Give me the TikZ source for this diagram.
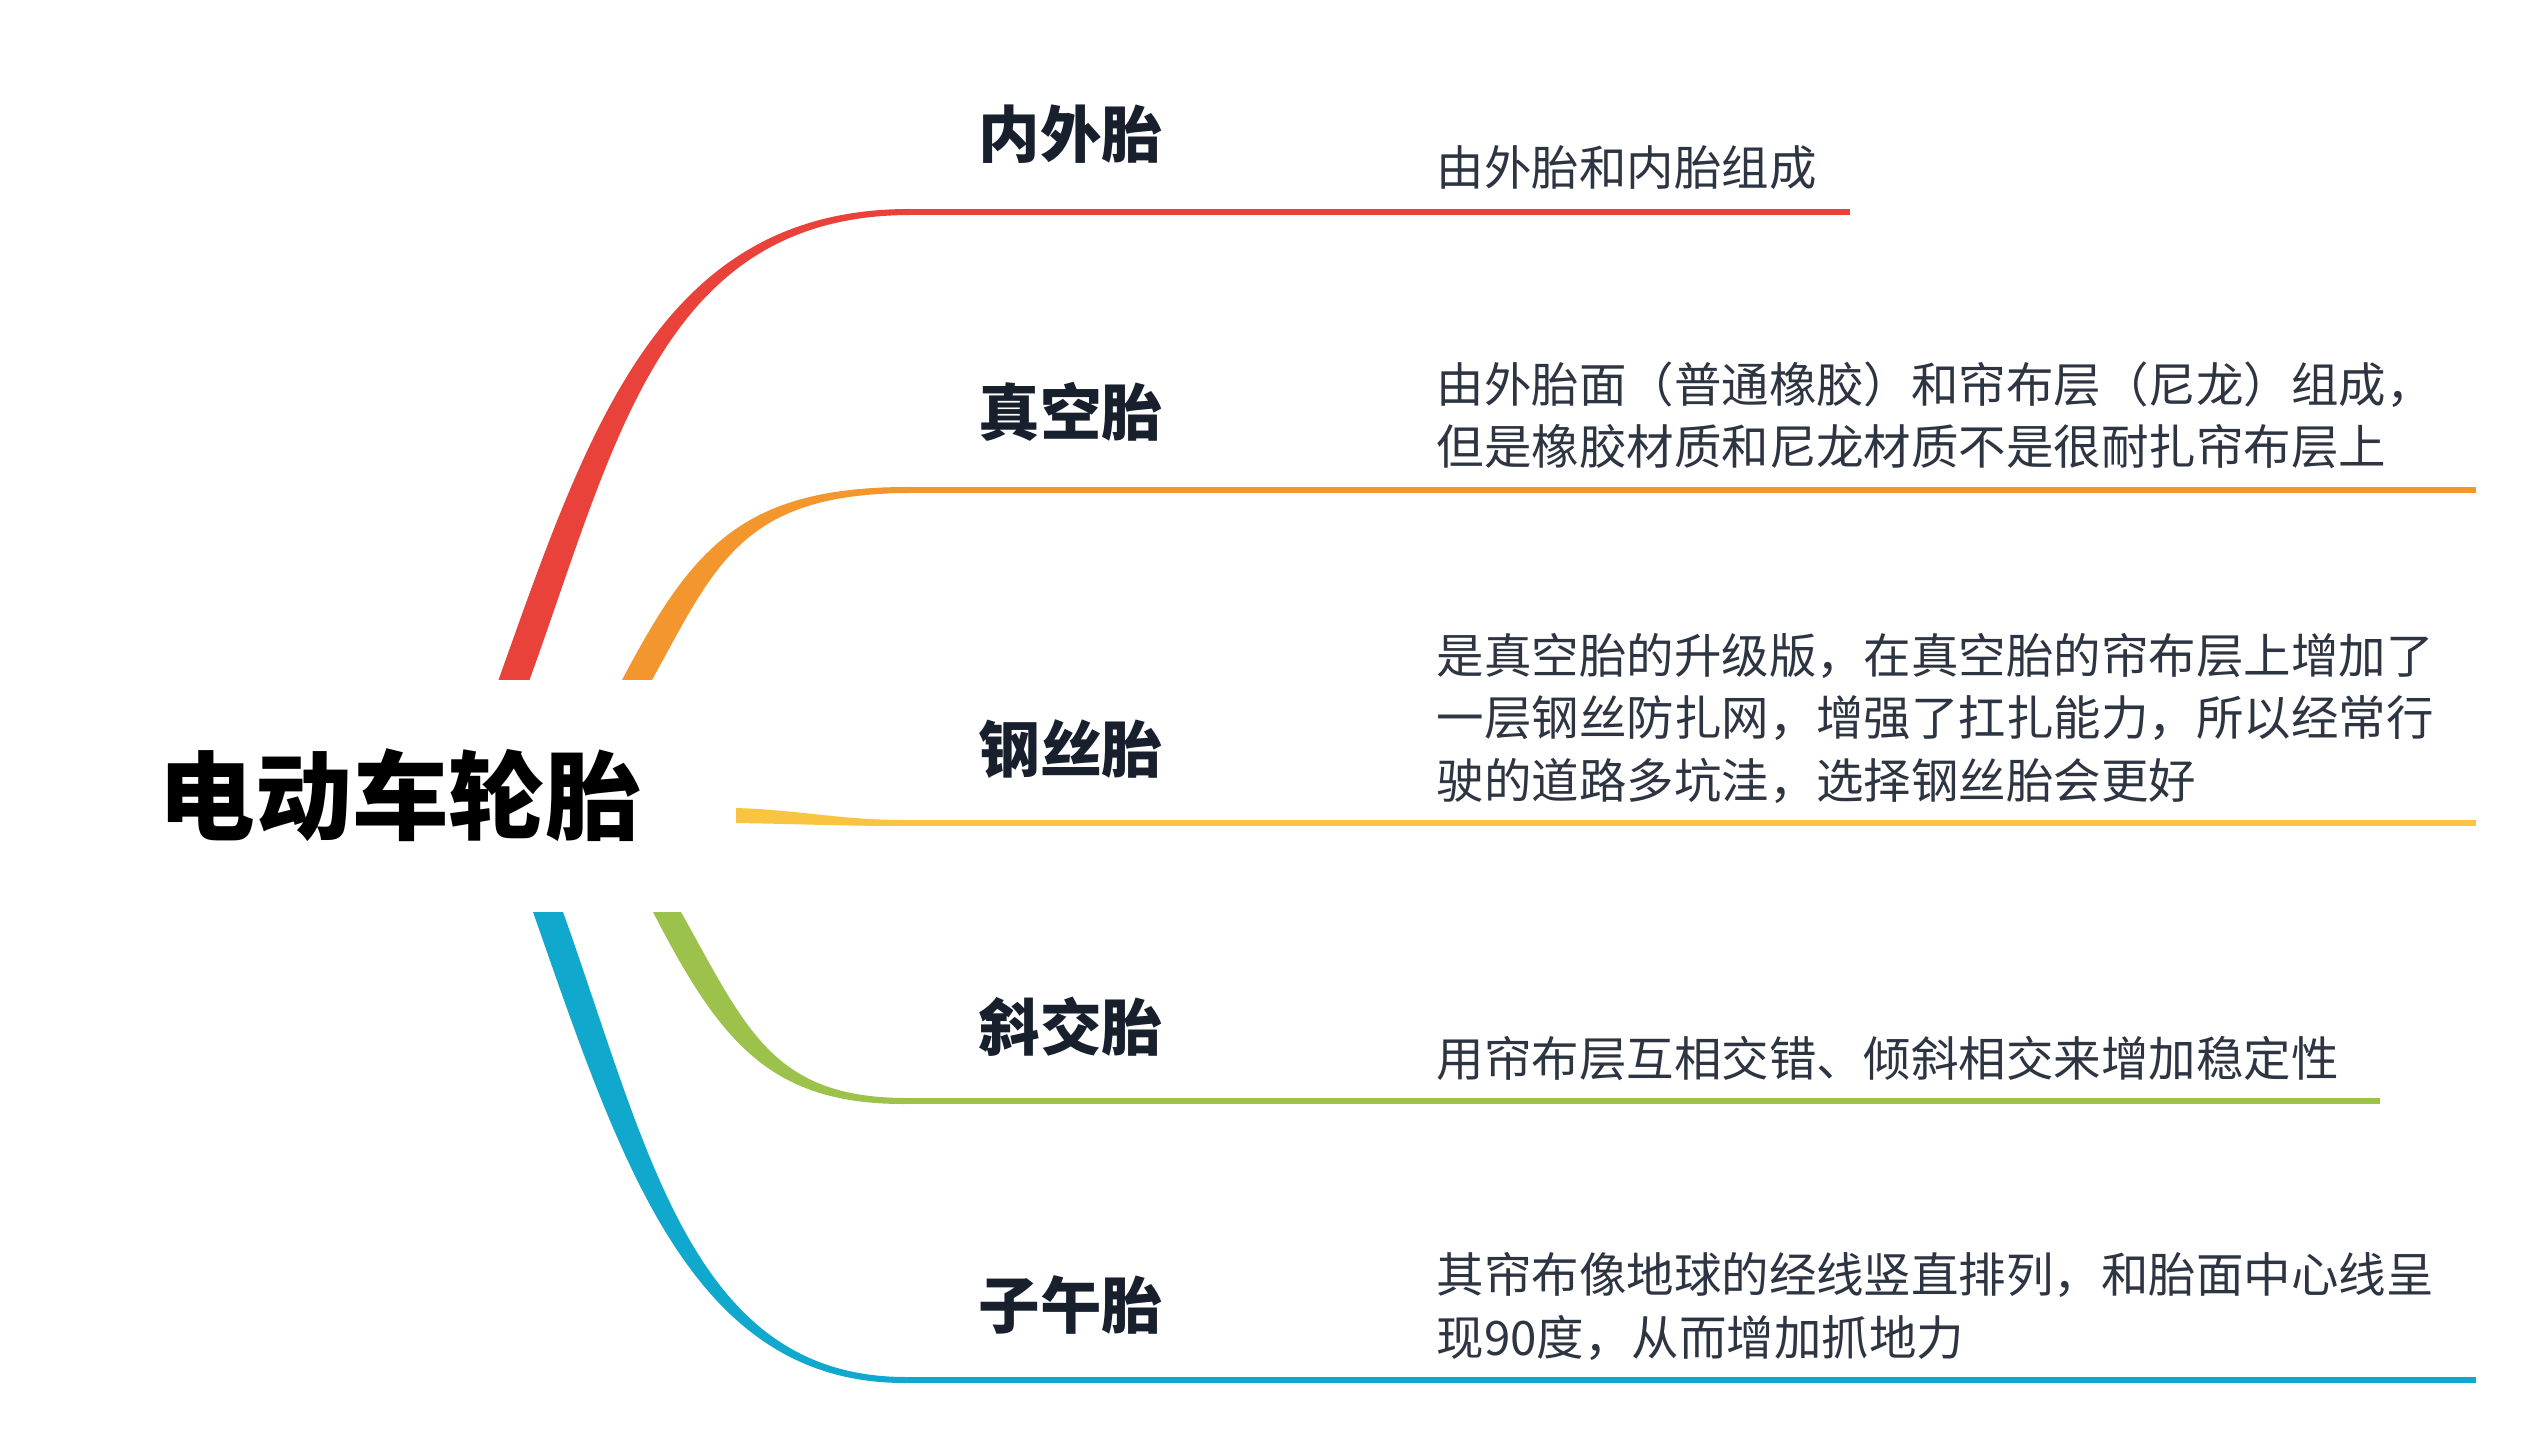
\documentclass[tikz,border=0pt]{standalone}
\usepackage{fontspec}
\newfontfamily\cjk{Noto Sans CJK SC}
\definecolor{cred}{HTML}{E9423A}
\definecolor{corange}{HTML}{F4962E}
\definecolor{cyellow}{HTML}{F9C540}
\definecolor{cgreen}{HTML}{9DC24B}
\definecolor{cblue}{HTML}{10A9CD}
\definecolor{labelc}{HTML}{18202E}
\definecolor{descc}{HTML}{2E3542}
\tikzset{
  titlenode/.style={inner sep=0pt, anchor=base west, text=black,
    font=\cjk\bfseries\fontsize{27.5pt}{30pt}\selectfont},
  labelnode/.style={inner sep=0pt, anchor=base west, text=labelc,
    font=\cjk\bfseries\fontsize{17.5pt}{20pt}\selectfont},
  descnode/.style={inner sep=0pt, anchor=base west, text=descc, align=left,
    font=\cjk\fontsize{13.5pt}{17.64pt}\selectfont},
  hline/.style={line width=1.7pt}
}
\begin{document}
\begin{tikzpicture}[x=0.01cm,y=-0.01cm]
\useasboundingbox (0,0) rectangle (2527,1440);
\fill[white] (0,0) rectangle (2527,1440);

% root
\node[titlenode] (root) at (158,832) {电动车轮胎};

% labels
\node[labelnode] (l1) at (978,158) {内外胎};
\node[labelnode] (l2) at (978,436) {真空胎};
\node[labelnode] (l3) at (978,772) {钢丝胎};
\node[labelnode] (l4) at (978,1050) {斜交胎};
\node[labelnode] (l5) at (978,1328) {子午胎};

% descriptions (anchor = baseline of the last line)
\node[descnode] (d1) at (1436,186) {由外胎和内胎组成};
\node[descnode] (d2) at (1436,465) {由外胎面（普通橡胶）和帘布层（尼龙）组成，\\但是橡胶材质和尼龙材质不是很耐扎帘布层上};
\node[descnode] (d3) at (1436,798) {是真空胎的升级版，在真空胎的帘布层上增加了\\一层钢丝防扎网，增强了扛扎能力，所以经常行\\驶的道路多坑洼，选择钢丝胎会更好};
\node[descnode] (d4) at (1436,1076) {用帘布层互相交错、倾斜相交来增加稳定性};
\node[descnode] (d5) at (1436,1355) {其帘布像地球的经线竖直排列，和胎面中心线呈\\现90度，从而增加抓地力};

% coordinates of branch joins and ends
\coordinate (j1) at (909,212);  \coordinate (e1) at (1850,212);
\coordinate (j2) at (909,490);  \coordinate (e2) at (2476,490);
\coordinate (j3) at (904,823);  \coordinate (e3) at (2476,823);
\coordinate (j4) at (904,1101); \coordinate (e4) at (2380,1101);
\coordinate (j5) at (904,1380); \coordinate (e5) at (2476,1380);

% red branch
\fill[cred] (498.5,680) .. controls (588,429) and (660,208.5) .. (910,209)
  -- (910,215) .. controls (662,215.5) and (616,441) .. (529.5,680) -- cycle;
\draw[hline,cred] (j1) -- (e1);

% orange branch
\fill[corange] (622,680) .. controls (691,550) and (740,486.5) .. (910,487)
  -- (910,493) .. controls (742,493.5) and (716,564) .. (652,680) -- cycle;
\draw[hline,corange] (j2) -- (e2);

% yellow branch
\fill[cyellow] (736,808) .. controls (800,810) and (840,820) .. (905,820)
  -- (905,826) .. controls (840,826) and (800,824) .. (736,823) -- cycle;
\draw[hline,cyellow] (j3) -- (e3);

% green branch
\fill[cgreen] (653,912) .. controls (720,1042) and (770,1104.5) .. (905,1104)
  -- (905,1098) .. controls (772,1097.5) and (746,1028) .. (681,912) -- cycle;
\draw[hline,cgreen] (j4) -- (e4);

% blue branch
\fill[cblue] (533,912) .. controls (620,1160) and (690,1383.5) .. (905,1383)
  -- (905,1377) .. controls (692,1376.5) and (648,1150) .. (563,912) -- cycle;
\draw[hline,cblue] (j5) -- (e5);
\end{tikzpicture}
\end{document}
